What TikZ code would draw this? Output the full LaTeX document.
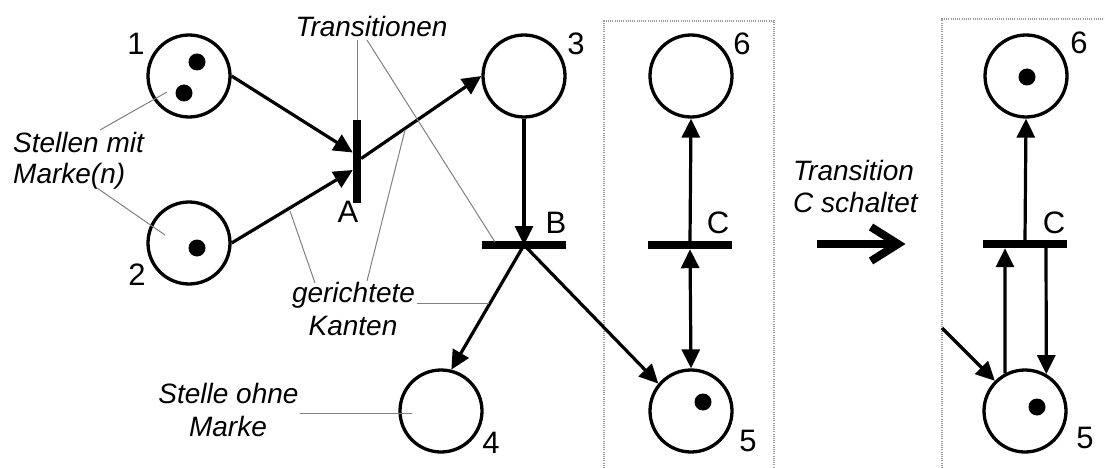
\documentclass[tikz,border=0pt]{standalone}
\usepackage{fontspec}
\setmainfont{Liberation Sans}
\usetikzlibrary{arrows.meta,calc}
\begin{document}
\begin{tikzpicture}[x=1pt,y=-1pt,
  place/.style={circle,draw,line width=3.3pt,minimum size=82pt,inner sep=0pt},
  token/.style={circle,fill,minimum size=17pt,inner sep=0pt},
  vbar/.style={fill,minimum width=8pt,minimum height=83pt,inner sep=0pt},
  hbar/.style={fill,minimum width=84pt,minimum height=8pt,inner sep=0pt},
  num/.style={font=\fontsize{31}{34}\selectfont,anchor=base,inner sep=0pt},
  note/.style={font=\fontsize{28}{32}\selectfont\itshape,inner sep=0pt},
  arc/.style={line width=3.2pt,-{Triangle[length=19pt,width=18pt]}},
  arcboth/.style={line width=3.2pt,{Triangle[length=19pt,width=18pt]}-{Triangle[length=19pt,width=18pt]}},
  leader/.style={gray,line width=1pt},
  frame/.style={gray!80,line width=1.2pt,dash pattern=on 1pt off 1.2pt}]
\useasboundingbox (0,0) rectangle (1105,468);

% frames
\draw[frame] (604,468) -- (604,21) -- (774,21) -- (774,468);
\draw[frame] (942,468) -- (942,19) -- (1106,19);

% places
\node[place] (p1) at (189,76) {};
\node[place] (p2) at (189,243) {};
\node[place] (p3) at (524,76) {};
\node[place] (p4) at (441,411) {};
\node[place] (p5) at (691,411) {};
\node[place] (p6) at (691,76) {};
\node[place] (q6) at (1026,76) {};
\node[place] (q5) at (1025,411) {};

% tokens
\node[token] (t1a) at (197,62) {};
\node[token] (t1b) at (184,93) {};
\node[token] (t2) at (197,248) {};
\node[token] (t5) at (703,402) {};
\node[token] (u6) at (1027,77) {};
\node[token] (u5) at (1037,407) {};

% transitions
\node[vbar] (A) at (357,161.5) {};
\node[hbar] (B) at (524,245) {};
\node[hbar] (C) at (690,245) {};
\node[hbar] (C2) at (1025,244) {};

% numbers
\node[num] (n1) at (136,55) {1};
\node[num] (n2) at (137,285) {2};
\node[num] (n3) at (576,55) {3};
\node[num] (n4) at (491,453) {4};
\node[num] (n5) at (748,451) {5};
\node[num] (n6) at (742,55) {6};
\node[num] (nA) at (348,222) {A};
\node[num] (nB) at (556,233) {B};
\node[num] (nC) at (718,233) {C};
\node[num] (m6) at (1079,54) {6};
\node[num] (mC) at (1054,233) {C};
\node[num] (m5) at (1085,448) {5};

% annotations
\node[note,anchor=base] (lt) at (371.5,37) {Transitionen};
\node[note,anchor=base west] (ls1) at (13,152) {Stellen mit};
\node[note,anchor=base west] (ls2) at (13,183) {Marke(n)};
\node[note,anchor=base] (lg1) at (353.5,302) {gerichtete};
\node[note,anchor=base] (lg2) at (353,335) {Kanten};
\node[note,anchor=base] (lo1) at (228.5,403) {Stelle ohne};
\node[note,anchor=base] (lo2) at (228,436) {Marke};
\node[note,anchor=base west] (lc1) at (793,180) {Transition};
\node[note,anchor=base west] (lc2) at (793,212) {C schaltet};

% arcs left net
\draw[arc] (p1.east) -- ($(A.west)+(0,-9)$);
\draw[arc] (p2.east) -- ($(A.west)+(0,8.5)$);
\draw[arc] ($(A.east)+(0,-3)$) -- (p3.west);
\draw[arc] (p3.south) -- (B.center);
\draw[arc] (B.center) -- (p4.76);
\draw[arc] (B.center) -- (p5.140);
\draw[arc] (C.north) -- (p6.south);
\draw[arcboth] (C.south) -- (p5.north);

% right net
\coordinate (in5) at (942,328);
\draw[arc] (in5) -- (q5);
\draw[arc] (C2.north) -- (q6.south);
\draw[arc] (q5.118) -- ($(C2.south)+(-20,0)$);
\draw[arc] ($(C2.south)+(21,0)$) -- (q5.60);

% big arrow
\coordinate (bs) at (817,244);
\coordinate (be) at (898,244);
\draw[line width=8pt] (bs) -- (be);
\draw[line width=8pt,miter limit=10] (871,227) -- (be) -- (871,261);

% leader lines
\coordinate (ta) at (357,40);
\coordinate (tb) at (367,40);
\coordinate (tbe) at (495,242);
\coordinate (s1) at (100,130);
\coordinate (s1e) at (167,92);
\coordinate (s2) at (97,188);
\coordinate (s2e) at (165,235);
\coordinate (g1) at (315,283);
\coordinate (g1e) at (290,211);
\coordinate (g2) at (367,281);
\coordinate (g2e) at (405,130);
\coordinate (g3) at (417,303);
\coordinate (g3e) at (489,303);
\coordinate (o1) at (300,413);
\coordinate (o1e) at (412,413);
\draw[leader] (ta) -- (A.north);
\draw[leader] (tb) -- (tbe);
\draw[leader] (s1) -- (s1e);
\draw[leader] (s2) -- (s2e);
\draw[leader] (g1) -- (g1e);
\draw[leader] (g2) -- (g2e);
\draw[leader] (g3) -- (g3e);
\draw[leader] (o1) -- (o1e);
\end{tikzpicture}
\end{document}
